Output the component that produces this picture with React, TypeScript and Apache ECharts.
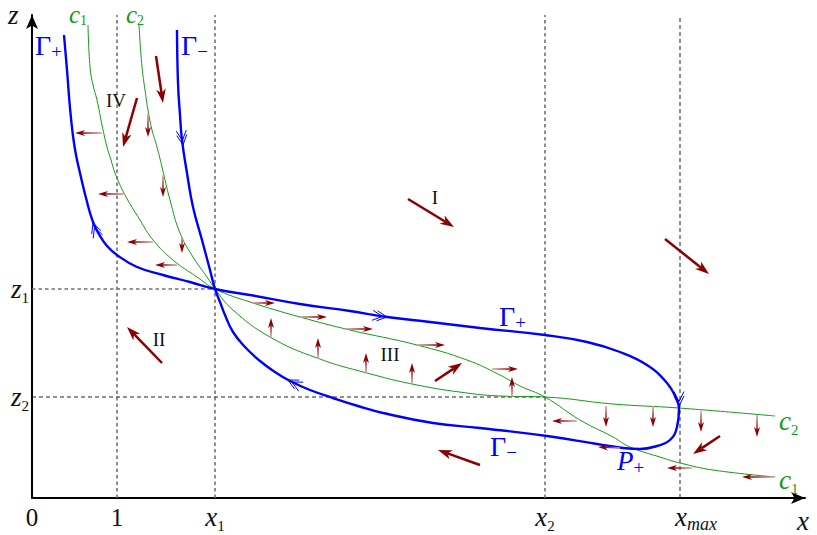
import React, { useEffect, useRef } from "react";
import * as echarts from "echarts";

// Data units: x = horizontal distance from the z-axis, z = height above the x-axis.
const xTickValues = [0, 85, 183, 513, 648];
const xTickLabels = ["0", "1", "x1", "x2", "xmax"];
const zTickValues = [101, 209];
const zTickLabels = ["z2", "z1"];

const gammaPlus = [
  [32, 463], [35, 428], [38, 390], [41, 362], [44, 343], [48, 325], [54, 300], [61, 276],
  [68, 262], [75, 252], [85, 243], [105, 231], [131, 223], [158, 216], [183, 209], [218, 203],
  [268, 194], [318, 187], [355, 181], [398, 176], [448, 170], [513, 163], [555, 156], [588, 146],
  [615, 133], [635, 115], [645, 98], [647, 90], [645, 71], [638, 58], [625, 52], [608, 49], [591, 50],
];
const gammaMinus = [
  [145, 468], [146, 415], [148, 383], [150, 358], [155, 325], [161, 291], [170, 258], [178, 228],
  [183, 209], [188, 196], [193, 183], [201, 166], [213, 151], [228, 137], [243, 126], [258, 117],
  [278, 108], [301, 100], [326, 92], [351, 85], [401, 75], [448, 70], [515, 62], [565, 54], [591, 50],
];
const c1 = [
  [56, 473], [58, 431], [61, 413], [65, 398], [70, 373], [75, 351], [79, 338], [83, 325], [93, 303],
  [108, 278], [121, 258], [141, 238], [165, 221], [183, 209], [218, 196], [268, 181], [318, 168],
  [385, 153], [435, 138], [468, 123], [488, 112], [513, 101], [548, 78], [581, 61], [598, 51],
  [631, 40], [648, 35], [681, 28], [743, 21],
];
const c2 = [
  [107, 473], [110, 431], [113, 408], [116, 388], [120, 368], [125, 351], [130, 331], [138, 298],
  [148, 265], [161, 241], [175, 221], [183, 209], [201, 188], [238, 161], [285, 140], [335, 125],
  [385, 113], [435, 105], [468, 102], [513, 101], [581, 94], [647, 90], [743, 82],
];

// [xTail, zTail, xTip, zTip]
const bigArrows = [
  [124, 442, 131, 395], [105, 400, 91, 351], [376, 299, 422, 271], [633, 259, 677, 224],
  [130, 135, 95, 171], [403, 117, 430, 135], [448, 33, 406, 48], [688, 62, 661, 44],
];
const smallArrows = [
  [70, 365, 43, 365], [93, 304, 66, 304], [121, 256, 95, 256], [145, 233, 123, 233],
  [545, 77, 520, 77], [588, 50, 566, 51], [660, 30, 635, 30], [741, 21, 710, 21],
  [116, 385, 116, 361], [131, 323, 131, 301], [150, 261, 150, 245],
  [574, 92, 574, 71], [621, 92, 621, 71], [669, 87, 669, 66], [725, 83, 725, 61],
  [220, 195, 243, 195], [268, 181, 295, 181], [313, 169, 341, 169], [385, 153, 413, 153], [460, 129, 486, 129],
  [239, 161, 239, 180], [286, 139, 286, 160], [334, 125, 334, 145], [380, 114, 380, 135], [480, 101, 480, 121],
];
// [xTip, zTip, dirX, dirZ]
const chevrons = [
  [151, 353, 7, -58], [61, 275, -14, 39], [355, 181, 43, -5], [256, 118, -35, 18], [647, 92, 0, -1],
];

const grayGuidesX = [85, 183, 513];
const blackGuidesX = [648];
const guideTop = 483;
const grayGuidesZ = [[209, 183]]; // [z, x end]
const blackGuidesZ = [[101, 513]];

const SERIF = "'Liberation Serif', 'DejaVu Serif', serif";
const BLUE = "#0000ff";
const GREEN = "#169a16";
const RED = "#8b0000";

// M: main font size, S: subscript size, L: line height, d: subscript baseline drop
function makeRich(color: string, M: number, S: number, L: number, d = 3) {
  const Ls = Math.max(4, L + 0.56 * (S - M) - 2 * d);
  return {
    m: { fontFamily: SERIF, fontStyle: "italic", fontSize: M, lineHeight: L, color },
    g: { fontFamily: SERIF, fontSize: M + 1, lineHeight: L, color },
    n: { fontFamily: SERIF, fontSize: M - 2, lineHeight: L, color },
    s: { fontFamily: SERIF, fontSize: S, lineHeight: Ls, verticalAlign: "bottom", color },
    si: { fontFamily: SERIF, fontStyle: "italic", fontSize: S + 3, lineHeight: Ls + 1.5, verticalAlign: "bottom", color },
    p: { width: 32, fontSize: S },
  };
}

function richFor(label: string) {
  if (label === "xmax") return "{p| }{m|x}{si|max}";
  if (/^[xz][0-9]$/.test(label)) return `{m|${label[0]}}{s|${label[1]}}`;
  return `{n|${label}}`;
}

function arrowRenderer(o: { color: string; tail?: string; width: number; headLen: number; headW: number }) {
  return (_params: any, api: any) => {
    const a = api.coord([api.value(0), api.value(1)]);
    const b = api.coord([api.value(2), api.value(3)]);
    const dx = b[0] - a[0];
    const dy = b[1] - a[1];
    const len = Math.hypot(dx, dy) || 1;
    const ux = dx / len, uy = dy / len, nx = -uy, ny = ux;
    const L = o.headLen, W = o.headW;
    const bx = b[0] - L * ux, by = b[1] - L * uy;
    const notch = [b[0] - 0.72 * L * ux, b[1] - 0.72 * L * uy];
    const pts = [b, [bx + W * nx, by + W * ny], notch, [bx - W * nx, by - W * ny]];
    const stroke = o.tail
      ? new echarts.graphic.LinearGradient(a[0], a[1], notch[0], notch[1], [
          { offset: 0, color: o.tail },
          { offset: 1, color: o.color },
        ], true)
      : o.color;
    return {
      type: "group",
      children: [
        { type: "line", shape: { x1: a[0], y1: a[1], x2: notch[0], y2: notch[1] }, style: { stroke, lineWidth: o.width } },
        { type: "polygon", shape: { points: pts }, style: { fill: o.color } },
      ],
    };
  };
}

function chevronRenderer(_params: any, api: any) {
  const p = api.coord([api.value(0), api.value(1)]);
  const q = api.coord([api.value(0) + api.value(2), api.value(1) + api.value(3)]);
  const dx = q[0] - p[0];
  const dy = q[1] - p[1];
  const len = Math.hypot(dx, dy) || 1;
  const ux = dx / len, uy = dy / len, nx = -uy, ny = ux;
  const children: any[] = [];
  for (let k = 0; k < 2; k++) {
    const tx = p[0] - k * 4.5 * ux, ty = p[1] - k * 4.5 * uy;
    children.push({
      type: "polyline",
      shape: {
        points: [
          [tx - 10 * ux + 5 * nx, ty - 10 * uy + 5 * ny],
          [tx, ty],
          [tx - 10 * ux - 5 * nx, ty - 10 * uy - 5 * ny],
        ],
      },
      style: { stroke: BLUE, lineWidth: 1, fill: "none" },
    });
  }
  return { type: "group", children };
}

function guideSeries(points: number[][], color: string, width: number, dash: number[]) {
  return {
    type: "line",
    data: points,
    symbol: "none",
    silent: true,
    lineStyle: { color, width, type: dash },
    z: 1,
  };
}

function curveSeries(points: number[][], color: string, width: number) {
  return {
    type: "line",
    data: points,
    symbol: "none",
    smooth: 0.45,
    silent: true,
    lineStyle: { color, width },
    z: 3,
  };
}

function textLabel(text: string, x: number, y: number, color: string, M: number, S: number, L: number) {
  return {
    type: "text",
    x,
    y,
    silent: true,
    z: 10,
    style: {
      text,
      rich: makeRich(color, M, S, L),
      fill: color,
      textAlign: "left",
      align: "left",
      textVerticalAlign: "middle",
      verticalAlign: "middle",
    },
  };
}

function plainLabel(text: string, x: number, y: number) {
  return {
    type: "text",
    x,
    y,
    silent: true,
    z: 10,
    style: {
      text,
      fill: "#111",
      font: `19px ${SERIF}`,
      textAlign: "center",
      align: "center",
      textVerticalAlign: "middle",
      verticalAlign: "middle",
    },
  };
}

export default function App() {
  const ref = useRef<HTMLDivElement>(null);
  useEffect(() => {
    if (!ref.current) return;
    const chart = echarts.init(ref.current, undefined, { renderer: "svg" });
    const series: any[] = [];
    grayGuidesX.forEach((x) => series.push(guideSeries([[x, 0], [x, guideTop]], "#707070", 1.6, [3.5, 3])));
    blackGuidesX.forEach((x) => series.push(guideSeries([[x, 0], [x, guideTop]], "#222", 1, [4, 3])));
    grayGuidesZ.forEach(([z, xe]) => series.push(guideSeries([[0, z], [xe, z]], "#707070", 1.6, [3.5, 3])));
    blackGuidesZ.forEach(([z, xe]) => series.push(guideSeries([[0, z], [xe, z]], "#222", 1, [4, 3])));
    series.push(curveSeries(c1, GREEN, 1));
    series.push(curveSeries(c2, GREEN, 1));
    series.push(curveSeries(gammaPlus, BLUE, 2.4));
    series.push(curveSeries(gammaMinus, BLUE, 2.4));
    series.push({ type: "custom", data: chevrons, renderItem: chevronRenderer, silent: true, z: 4 });
    series.push({
      type: "custom",
      data: smallArrows,
      renderItem: arrowRenderer({ color: RED, tail: "#d9a0a6", width: 1.5, headLen: 10, headW: 3 }),
      silent: true,
      z: 5,
    });
    series.push({
      type: "custom",
      data: bigArrows,
      renderItem: arrowRenderer({ color: RED, width: 2.5, headLen: 14, headW: 4.8 }),
      silent: true,
      z: 5,
    });

    const axisRich = makeRich("#111", 27, 15, 32);
    chart.setOption({
      animation: false,
      grid: { left: 32, right: 12, top: 15, bottom: 37, containLabel: false },
      xAxis: {
        type: "value",
        min: 0,
        max: 773,
        splitLine: { show: false },
        axisTick: { show: false },
        axisLine: { show: true, onZero: false, lineStyle: { color: "#000", width: 2 }, symbol: ["none", "arrow"], symbolSize: [9, 14] },
        axisLabel: {
          customValues: xTickValues,
          margin: 3,
          formatter: (v: number) => richFor(xTickLabels[xTickValues.indexOf(v)] ?? ""),
          rich: axisRich,
          color: "#111",
        },
      },
      yAxis: {
        type: "value",
        min: 0,
        max: 483,
        splitLine: { show: false },
        axisTick: { show: false },
        axisLine: { show: true, onZero: false, lineStyle: { color: "#000", width: 2 }, symbol: ["none", "arrow"], symbolSize: [9, 14] },
        axisLabel: {
          customValues: zTickValues,
          margin: 3,
          formatter: (v: number) => richFor(zTickLabels[zTickValues.indexOf(v)] ?? ""),
          rich: axisRich,
          color: "#111",
        },
      },
      graphic: [
        textLabel("{m|z}", 8, 15, "#111", 27, 15, 20),
        textLabel("{m|x}", 797, 521, "#111", 27, 15, 20),
        textLabel("{g|Γ}{s|+}", 35, 45, BLUE, 27, 19, 32),
        textLabel("{g|Γ}{s|−}", 181, 45, BLUE, 27, 19, 32),
        textLabel("{m|c}{s|1}", 69, 14.5, GREEN, 25, 14, 25),
        textLabel("{m|c}{s|2}", 126, 14.5, GREEN, 25, 14, 25),
        textLabel("{g|Γ}{s|+}", 499, 316, BLUE, 27, 19, 32),
        textLabel("{g|Γ}{s|−}", 490, 446, BLUE, 27, 19, 32),
        textLabel("{m|P}{s|+}", 617, 461, BLUE, 27, 19, 32),
        textLabel("{m|c}{s|2}", 779, 421, GREEN, 27, 15, 32),
        textLabel("{m|c}{s|1}", 779, 480, GREEN, 27, 15, 32),
        plainLabel("IV", 116, 100),
        plainLabel("I", 435, 197),
        plainLabel("II", 159, 339),
        plainLabel("III", 390, 354),
      ],
      series,
    });
    return () => chart.dispose();
  }, []);
  return <div ref={ref} style={{ position: "absolute", left: 0, top: 0, width: 817, height: 535 }} />;
}
